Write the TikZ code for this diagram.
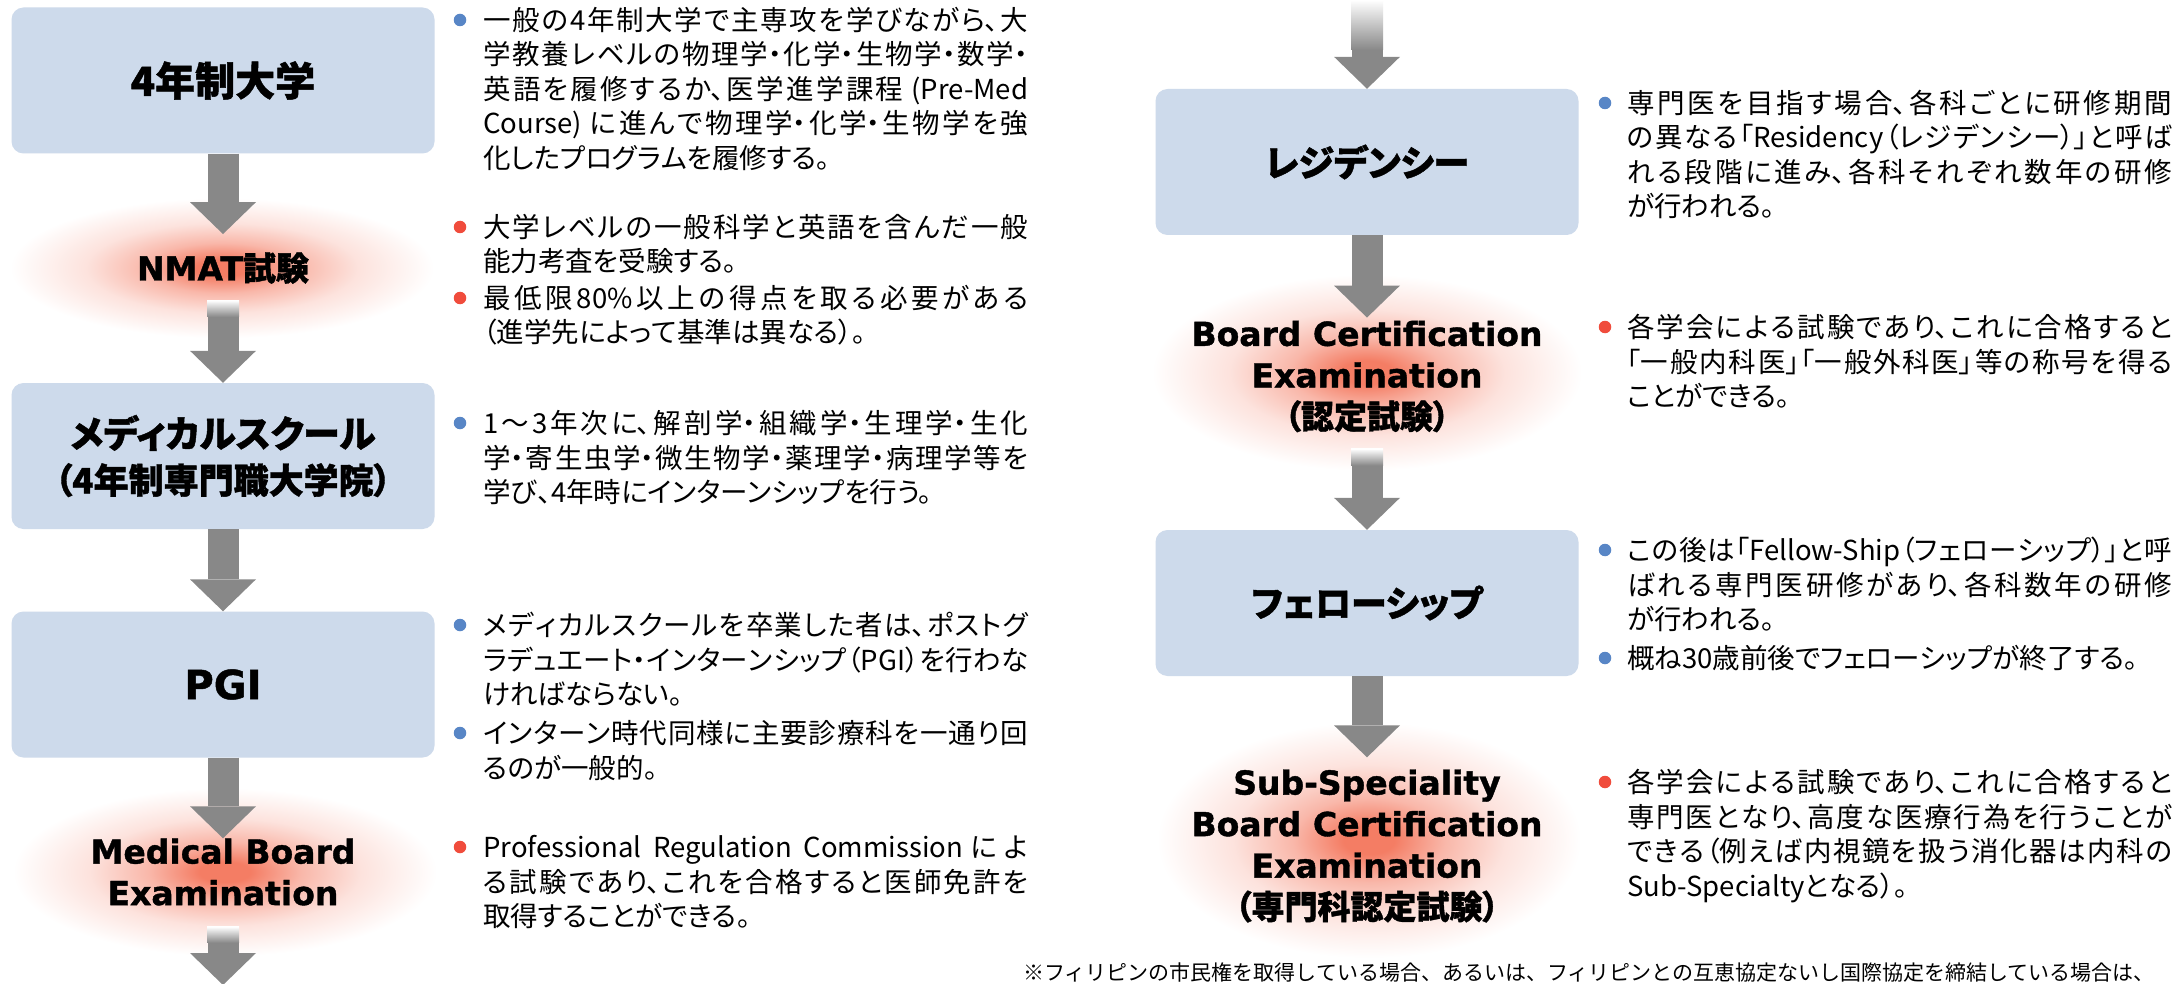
\documentclass[tikz,border=0pt]{standalone}
\usepackage{fontspec}
\setmainfont{Noto Sans CJK JP}
\newfontfamily\jpfont{Noto Sans CJK JP}[RawFeature=+palt, BoldFeatures={FakeBold=1.2}]
\newfontfamily\jpfontnp{Noto Sans CJK JP}
\newfontfamily\enfont{DejaVu Sans}[BoldFeatures={FakeBold=1.2}]
\usetikzlibrary{arrows.meta,calc}
\XeTeXlinebreaklocale "ja"
\XeTeXlinebreakskip=0pt plus 4pt
\definecolor{boxc}{RGB}{205,218,235}
\definecolor{arrowc}{RGB}{136,136,136}
\definecolor{bulb}{RGB}{88,134,198}
\definecolor{bulr}{RGB}{240,76,60}
\definecolor{glowc}{RGB}{244,125,100}
\pgfdeclarelayer{bg}
\pgfsetlayers{bg,main}
\pgfdeclareradialshading{glowshade}{\pgfpoint{0bp}{0bp}}{color(0bp)=(glowc); color(3bp)=(glowc); color(9bp)=(glowc!55!white); color(16bp)=(glowc!22!white); color(25bp)=(white); color(50bp)=(white)}
\tikzset{
  box/.style={fill=boxc, rounded corners=12pt, minimum width=423pt, minimum height=146pt, inner sep=0pt, align=center, font=\jpfont\bfseries\fontsize{40}{46}\selectfont},
  gtitle/.style={inner sep=0pt, align=center, font=\enfont\bfseries\fontsize{33}{41.5}\selectfont},
  bigarr/.style={draw=arrowc, line width=31pt, -{Triangle[width=66pt,length=32pt,line width=0pt]}},
  btext/.style={anchor=base west, inner sep=0pt, font=\jpfont\fontsize{27.5}{34.5}\selectfont},
  dotb/.style={circle, fill=bulb, minimum size=12.5pt, inner sep=0pt},
  dotr/.style={circle, fill=bulr, minimum size=12.5pt, inner sep=0pt},
  glow/.style={shading=glowshade},
  fadeshaft/.style={top color=white, bottom color=arrowc},
  foot/.style={anchor=base west, inner sep=0pt, font=\jpfontnp\fontsize{21}{26}\selectfont},
}
\begin{document}
\begin{tikzpicture}[x=1pt,y=-1pt]
\useasboundingbox (0,0) rectangle (2181,984);
\begin{pgfonlayer}{bg}
\fill[white] (0,0) rectangle (2181,984);
\end{pgfonlayer}

% title boxes and exam titles
\node[box] (b1) at (223,80.5) {4年制大学};
\node[gtitle] (nmat) at (223,268) {NMAT{\jpfont 試験}};
\node[box] (b2) at (223,456) {{\fontsize{37}{44}\selectfont メディカルスクール}\\{\fontsize{35}{44}\selectfont （4年制専門職大学院）}};
\node[box] (b3) at (223,684.5) {{\enfont PGI}};
\node[gtitle] (med) at (223,872) {Medical Board\\Examination};
\node[box, font=\jpfont\bfseries\fontsize{36}{44}\selectfont] (r1) at (1367,162) {レジデンシー};
\node[gtitle] (bc) at (1367,376.5) {Board Certification\\Examination\\{\jpfont （認定試験）}};
\node[box, font=\jpfont\bfseries\fontsize{36}{44}\selectfont] (r2) at (1367,603) {フェローシップ};
\node[gtitle] (ss) at (1367,846) {Sub-Speciality\\Board Certification\\Examination\\{\jpfont （専門科認定試験）}};
\coordinate (rtop) at (1367,0);
\coordinate (lend) at (223,985);

% glows
\begin{pgfonlayer}{bg}
\shade[glow] ([xshift=-1pt]nmat.center) ellipse [x radius=212pt, y radius=70pt];
\shade[glow] ([xshift=2pt]med.center) ellipse [x radius=212pt, y radius=84pt];
\shade[glow] ([yshift=4pt]bc.center) ellipse [x radius=215pt, y radius=98pt];
\shade[glow] ([xshift=2pt,yshift=6pt]ss.center) ellipse [x radius=212pt, y radius=118pt];
\end{pgfonlayer}

% arrows
\draw[bigarr, shorten >=18pt] (b1.south) -- (nmat.north);
\draw[bigarr, shorten <=17pt] (nmat.south) -- (b2.north);
\draw[bigarr] (b2.south) -- (b3.north);
\draw[bigarr] (b3.south) -- (med.north);
\draw[bigarr, shorten <=21.5pt] (med.south) -- (lend);
\draw[bigarr] (rtop) -- (r1.north);
\draw[bigarr, shorten >=3pt] (r1.south) -- (bc.north);
\draw[bigarr, shorten <=17pt] (bc.south) -- (r2.north);
\draw[bigarr, shorten >=12pt] (r2.south) -- (ss.north);
\shade[fadeshaft] ([xshift=-16pt,yshift=-16.5pt]nmat.south) rectangle ([xshift=16pt,yshift=-33pt]nmat.south);
\shade[fadeshaft] ([xshift=-16pt,yshift=-21pt]med.south) rectangle ([xshift=16pt,yshift=-37pt]med.south);
\shade[fadeshaft] ([xshift=-16pt,yshift=-16.5pt]bc.south) rectangle ([xshift=16pt,yshift=-33pt]bc.south);
\shade[fadeshaft] ([xshift=-16pt]rtop) rectangle ([xshift=16pt,yshift=-50pt]rtop);

% left column text
\node[dotb] (d1) at (460,20) {};
\node[btext] (t1) at (483,30.5) {\parbox[t]{545pt}{一般の4年制大学で主専攻を学びながら、大\linebreak 学教養レベルの物理学・化学・生物学・数学・\linebreak 英語を履修するか、医学進学課程 (Pre-Med\linebreak Course) に進んで物理学・化学・生物学を強\linebreak 化したプログラムを履修する。}};
\node[dotr] (d2) at (460,227) {};
\node[btext] (t2) at (483,237.5) {\parbox[t]{545pt}{大学レベルの一般科学と英語を含んだ一般\linebreak 能力考査を受験する。}};
\node[dotr] (d3) at (460,298) {};
\node[btext] (t3) at (483,308.5) {\parbox[t]{545pt}{最低限80\%以上の得点を取る必要がある\linebreak （進学先によって基準は異なる）。}};
\node[dotb] (d4) at (460,423) {};
\node[btext] (t4) at (483,433.5) {\parbox[t]{545pt}{1～3年次に、解剖学・組織学・生理学・生化\linebreak 学・寄生虫学・微生物学・薬理学・病理学等を\linebreak 学び、4年時にインターンシップを行う。}};
\node[dotb] (d5) at (460,625) {};
\node[btext] (t5) at (483,635.5) {\parbox[t]{545pt}{メディカルスクールを卒業した者は、ポストグ\linebreak ラデュエート・インターンシップ（PGI）を行わな\linebreak ければならない。}};
\node[dotb] (d6) at (460,733) {};
\node[btext] (t6) at (483,743.5) {\parbox[t]{545pt}{インターン時代同様に主要診療科を一通り回\linebreak るのが一般的。}};
\node[dotr] (d7) at (460,847) {};
\node[btext] (t7) at (483,857.5) {\parbox[t]{545pt}{Professional Regulation Commissionによ\linebreak る試験であり、これを合格すると医師免許を\linebreak 取得することができる。}};

% right column text
\node[dotb] (d8) at (1605,103) {};
\node[btext] (t8) at (1627,113.5) {\parbox[t]{545pt}{専門医を目指す場合、各科ごとに研修期間\linebreak の異なる「Residency（レジデンシー）」と呼ば\linebreak れる段階に進み、各科それぞれ数年の研修\linebreak が行われる。}};
\node[dotr] (d9) at (1605,327) {};
\node[btext] (t9) at (1627,337.5) {\parbox[t]{545pt}{各学会による試験であり、これに合格すると\linebreak 「一般内科医」「一般外科医」等の称号を得る\linebreak ことができる。}};
\node[dotb] (d10) at (1605,550) {};
\node[btext] (t10) at (1627,560.5) {\parbox[t]{545pt}{この後は「Fellow-Ship（フェローシップ）」と呼\linebreak ばれる専門医研修があり、各科数年の研修\linebreak が行われる。}};
\node[dotb] (d11) at (1605,658) {};
\node[btext] (t11) at (1627,668.5) {\parbox[t]{545pt}{概ね30歳前後でフェローシップが終了する。}};
\node[dotr] (d12) at (1605,782) {};
\node[btext] (t12) at (1627,792.5) {\parbox[t]{545pt}{各学会による試験であり、これに合格すると\linebreak 専門医となり、高度な医療行為を行うことが\linebreak できる（例えば内視鏡を扱う消化器は内科の\linebreak Sub-Specialtyとなる）。}};

\node[foot] (fn) at (1023,980) {※フィリピンの市民権を取得している場合、あるいは、フィリピンとの互恵協定ないし国際協定を締結している場合は、};
\end{tikzpicture}
\end{document}
